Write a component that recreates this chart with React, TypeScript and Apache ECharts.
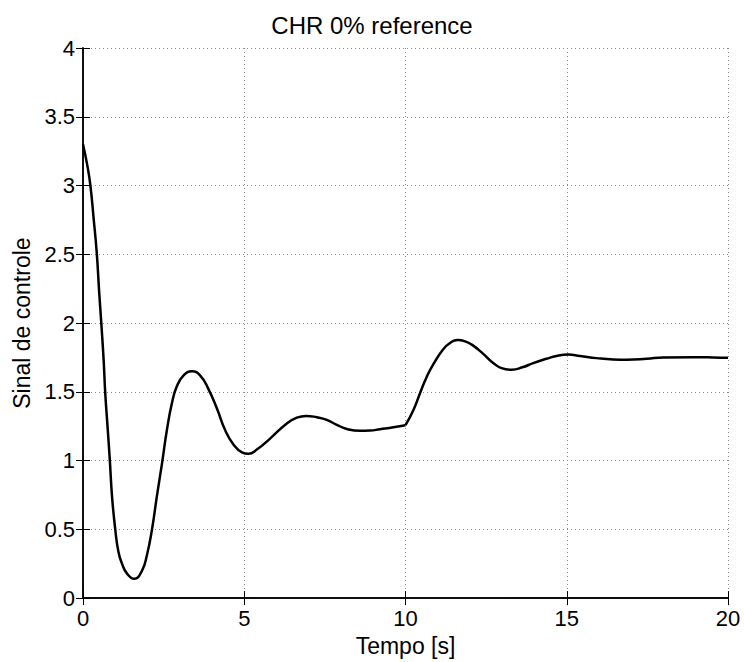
import React, { useEffect, useRef } from "react";
import * as echarts from "echarts";

const titleText = "CHR 0% reference";
const xName = "Tempo [s]";
const yName = "Sinal de controle";

// segment before the reference step at t = 10 s
const seg1T = [0, 0.13, 0.23, 0.33, 0.43, 0.5, 0.57, 0.64, 0.69, 0.76, 0.83, 0.9, 1.0, 1.1, 1.21, 1.36, 1.59, 1.83, 1.98, 2.14, 2.29, 2.45, 2.6, 2.76, 2.91, 3.12, 3.38, 3.63, 3.89, 4.15, 4.41, 4.67, 4.93, 5.13, 5.39, 5.8, 6.32, 6.63, 6.92, 7.25, 7.56, 7.87, 8.18, 8.59, 8.9, 9.21, 9.63, 10.0];
const seg1V = [3.3, 3.15, 3.0, 2.76, 2.5, 2.23, 1.99, 1.73, 1.49, 1.25, 1.01, 0.74, 0.5, 0.335, 0.25, 0.18, 0.14, 0.2, 0.31, 0.5, 0.74, 0.98, 1.22, 1.42, 1.54, 1.62, 1.65, 1.62, 1.52, 1.38, 1.22, 1.115, 1.06, 1.05, 1.08, 1.16, 1.27, 1.312, 1.325, 1.315, 1.296, 1.26, 1.23, 1.216, 1.218, 1.228, 1.242, 1.257];

// segment after the step
const seg2T = [10.0, 10.25, 10.45, 10.66, 10.86, 11.17, 11.38, 11.61, 11.85, 12.1, 12.41, 12.72, 12.98, 13.29, 13.65, 13.96, 14.37, 14.68, 15.05, 15.41, 15.93, 16.44, 16.86, 17.48, 17.99, 18.92, 19.54, 20];
const seg2V = [1.257, 1.37, 1.49, 1.61, 1.7, 1.81, 1.855, 1.877, 1.867, 1.836, 1.776, 1.71, 1.672, 1.66, 1.68, 1.709, 1.74, 1.761, 1.771, 1.761, 1.745, 1.735, 1.733, 1.74, 1.75, 1.752, 1.75, 1.747];

const FONT = "Liberation Sans, Arial, Helvetica, sans-serif";

export default function App() {
  const ref = useRef<HTMLDivElement>(null);
  useEffect(() => {
    if (!ref.current) return;
    const chart = echarts.init(ref.current, undefined, { renderer: "svg" });
    const pairs = (t: number[], v: number[]) => t.map((x, i) => [x, v[i]]);
    const lineStyle = { color: "#000", width: 2.5 };
    const axisLine = { show: true, lineStyle: { color: "#000", width: 1.5 } };
    const axisTick = { show: true, inside: true, length: 7, lineStyle: { color: "#000", width: 1 } };
    const splitLine = { show: true, lineStyle: { color: "#888", type: [1, 3] as any, width: 1 } };
    chart.setOption({
      animation: false,
      backgroundColor: "#fff",
      textStyle: { fontFamily: FONT },
      title: {
        text: titleText,
        left: "center",
        top: 8,
        textStyle: { fontFamily: FONT, fontSize: 24, fontWeight: "normal", color: "#000" },
      },
      grid: { left: 83, right: 16, top: 48, bottom: 59, containLabel: false },
      xAxis: [
        {
          type: "value",
          min: 0,
          max: 20,
          interval: 5,
          name: xName,
          nameLocation: "middle",
          nameGap: 29,
          nameTextStyle: { fontFamily: FONT, fontSize: 23, color: "#000" },
          axisLine,
          axisTick,
          axisLabel: { fontFamily: FONT, fontSize: 22, color: "#000", margin: 9 },
          splitLine,
        },
        {
          type: "value",
          position: "top",
          min: 0,
          max: 20,
          interval: 5,
          axisLine,
          axisTick,
          axisLabel: { show: false },
          splitLine: { show: false },
        },
      ],
      yAxis: [
        {
          type: "value",
          min: 0,
          max: 4,
          interval: 0.5,
          name: yName,
          nameLocation: "middle",
          nameGap: 45,
          nameTextStyle: { fontFamily: FONT, fontSize: 23, color: "#000" },
          axisLine,
          axisTick,
          axisLabel: { fontFamily: FONT, fontSize: 22, color: "#000", margin: 8 },
          splitLine,
        },
        {
          type: "value",
          position: "right",
          min: 0,
          max: 4,
          interval: 0.5,
          axisLine,
          axisTick,
          axisLabel: { show: false },
          splitLine: { show: false },
        },
      ],
      series: [
        {
          type: "line",
          data: pairs(seg1T, seg1V),
          smooth: 0.5,
          showSymbol: false,
          symbol: "none",
          lineStyle,
          xAxisIndex: 0,
          yAxisIndex: 0,
        },
        {
          type: "line",
          data: pairs(seg2T, seg2V),
          smooth: 0.5,
          showSymbol: false,
          symbol: "none",
          lineStyle,
          xAxisIndex: 0,
          yAxisIndex: 0,
        },
      ],
    });
    return () => chart.dispose();
  }, []);
  return <div ref={ref} style={{ width: 744, height: 662, position: "absolute", left: 0, top: 0 }} />;
}
